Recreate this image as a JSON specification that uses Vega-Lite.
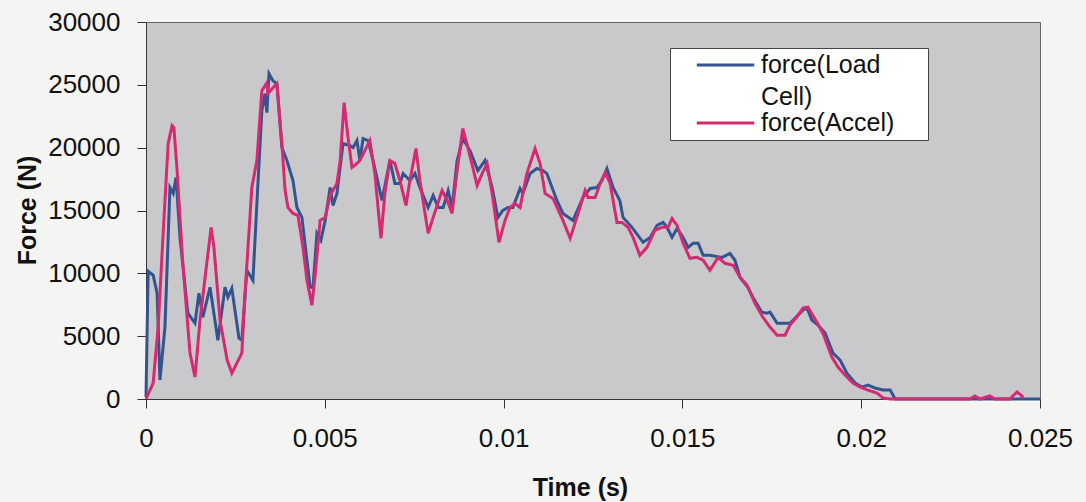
{
  "$schema": "https://vega.github.io/schema/vega-lite/v6.json",
  "width": 894,
  "height": 377,
  "autosize": {"type": "none"},
  "padding": {"left": 146, "top": 22, "right": 46, "bottom": 103},
  "background": "#f4f4f2",
  "config": {
    "view": {"fill": "#c9c9cb", "stroke": "#666666", "strokeWidth": 1},
    "font": "Liberation Sans"
  },
  "data": {"values": [
    {"time":0,"force":160,"series":"force(Load Cell)"},
    {"time":0.00006,"force":10160,"series":"force(Load Cell)"},
    {"time":0.0002,"force":9850,"series":"force(Load Cell)"},
    {"time":0.00031,"force":8420,"series":"force(Load Cell)"},
    {"time":0.00039,"force":1510,"series":"force(Load Cell)"},
    {"time":0.00053,"force":5720,"series":"force(Load Cell)"},
    {"time":0.00067,"force":16830,"series":"force(Load Cell)"},
    {"time":0.00076,"force":16360,"series":"force(Load Cell)"},
    {"time":0.00084,"force":17630,"series":"force(Load Cell)"},
    {"time":0.00095,"force":12860,"series":"force(Load Cell)"},
    {"time":0.00117,"force":6830,"series":"force(Load Cell)"},
    {"time":0.00137,"force":6040,"series":"force(Load Cell)"},
    {"time":0.00148,"force":8420,"series":"force(Load Cell)"},
    {"time":0.00159,"force":6510,"series":"force(Load Cell)"},
    {"time":0.00179,"force":8890,"series":"force(Load Cell)"},
    {"time":0.00201,"force":4680,"series":"force(Load Cell)"},
    {"time":0.00221,"force":8890,"series":"force(Load Cell)"},
    {"time":0.00229,"force":8100,"series":"force(Load Cell)"},
    {"time":0.0024,"force":8810,"series":"force(Load Cell)"},
    {"time":0.0026,"force":4840,"series":"force(Load Cell)"},
    {"time":0.00268,"force":4680,"series":"force(Load Cell)"},
    {"time":0.00282,"force":10240,"series":"force(Load Cell)"},
    {"time":0.00299,"force":9450,"series":"force(Load Cell)"},
    {"time":0.00313,"force":17150,"series":"force(Load Cell)"},
    {"time":0.00324,"force":22950,"series":"force(Load Cell)"},
    {"time":0.00333,"force":24300,"series":"force(Load Cell)"},
    {"time":0.00338,"force":22790,"series":"force(Load Cell)"},
    {"time":0.00344,"force":25880,"series":"force(Load Cell)"},
    {"time":0.00355,"force":25330,"series":"force(Load Cell)"},
    {"time":0.00366,"force":25090,"series":"force(Load Cell)"},
    {"time":0.0038,"force":20010,"series":"force(Load Cell)"},
    {"time":0.00394,"force":18980,"series":"force(Load Cell)"},
    {"time":0.00411,"force":17390,"series":"force(Load Cell)"},
    {"time":0.00422,"force":15240,"series":"force(Load Cell)"},
    {"time":0.00436,"force":14450,"series":"force(Load Cell)"},
    {"time":0.0045,"force":11040,"series":"force(Load Cell)"},
    {"time":0.00459,"force":8890,"series":"force(Load Cell)"},
    {"time":0.00467,"force":8890,"series":"force(Load Cell)"},
    {"time":0.00478,"force":13180,"series":"force(Load Cell)"},
    {"time":0.00489,"force":12620,"series":"force(Load Cell)"},
    {"time":0.00501,"force":14210,"series":"force(Load Cell)"},
    {"time":0.00515,"force":16830,"series":"force(Load Cell)"},
    {"time":0.00523,"force":15400,"series":"force(Load Cell)"},
    {"time":0.00534,"force":16360,"series":"force(Load Cell)"},
    {"time":0.00551,"force":20330,"series":"force(Load Cell)"},
    {"time":0.0057,"force":20170,"series":"force(Load Cell)"},
    {"time":0.00579,"force":20010,"series":"force(Load Cell)"},
    {"time":0.0059,"force":20560,"series":"force(Load Cell)"},
    {"time":0.00598,"force":18980,"series":"force(Load Cell)"},
    {"time":0.00607,"force":20720,"series":"force(Load Cell)"},
    {"time":0.00621,"force":20560,"series":"force(Load Cell)"},
    {"time":0.00635,"force":18980,"series":"force(Load Cell)"},
    {"time":0.0066,"force":15800,"series":"force(Load Cell)"},
    {"time":0.00682,"force":18980,"series":"force(Load Cell)"},
    {"time":0.00696,"force":17150,"series":"force(Load Cell)"},
    {"time":0.0071,"force":17150,"series":"force(Load Cell)"},
    {"time":0.00719,"force":17940,"series":"force(Load Cell)"},
    {"time":0.00738,"force":17390,"series":"force(Load Cell)"},
    {"time":0.00752,"force":17940,"series":"force(Load Cell)"},
    {"time":0.00766,"force":16830,"series":"force(Load Cell)"},
    {"time":0.00789,"force":15240,"series":"force(Load Cell)"},
    {"time":0.00803,"force":16200,"series":"force(Load Cell)"},
    {"time":0.00817,"force":15240,"series":"force(Load Cell)"},
    {"time":0.00831,"force":15240,"series":"force(Load Cell)"},
    {"time":0.00845,"force":16590,"series":"force(Load Cell)"},
    {"time":0.00856,"force":15240,"series":"force(Load Cell)"},
    {"time":0.0087,"force":18980,"series":"force(Load Cell)"},
    {"time":0.00886,"force":20720,"series":"force(Load Cell)"},
    {"time":0.00906,"force":19770,"series":"force(Load Cell)"},
    {"time":0.00928,"force":18180,"series":"force(Load Cell)"},
    {"time":0.00948,"force":18980,"series":"force(Load Cell)"},
    {"time":0.00968,"force":16830,"series":"force(Load Cell)"},
    {"time":0.00984,"force":14450,"series":"force(Load Cell)"},
    {"time":0.00998,"force":15010,"series":"force(Load Cell)"},
    {"time":0.01012,"force":15240,"series":"force(Load Cell)"},
    {"time":0.01026,"force":15240,"series":"force(Load Cell)"},
    {"time":0.01046,"force":16750,"series":"force(Load Cell)"},
    {"time":0.01054,"force":16360,"series":"force(Load Cell)"},
    {"time":0.01074,"force":17940,"series":"force(Load Cell)"},
    {"time":0.01093,"force":18340,"series":"force(Load Cell)"},
    {"time":0.0111,"force":18180,"series":"force(Load Cell)"},
    {"time":0.01121,"force":17940,"series":"force(Load Cell)"},
    {"time":0.01149,"force":15800,"series":"force(Load Cell)"},
    {"time":0.01166,"force":14770,"series":"force(Load Cell)"},
    {"time":0.01194,"force":14210,"series":"force(Load Cell)"},
    {"time":0.01222,"force":16040,"series":"force(Load Cell)"},
    {"time":0.01242,"force":16750,"series":"force(Load Cell)"},
    {"time":0.01261,"force":16830,"series":"force(Load Cell)"},
    {"time":0.01275,"force":17390,"series":"force(Load Cell)"},
    {"time":0.01289,"force":18340,"series":"force(Load Cell)"},
    {"time":0.01306,"force":16830,"series":"force(Load Cell)"},
    {"time":0.01325,"force":15800,"series":"force(Load Cell)"},
    {"time":0.01334,"force":14450,"series":"force(Load Cell)"},
    {"time":0.01359,"force":13660,"series":"force(Load Cell)"},
    {"time":0.0139,"force":12470,"series":"force(Load Cell)"},
    {"time":0.0141,"force":12860,"series":"force(Load Cell)"},
    {"time":0.01429,"force":13820,"series":"force(Load Cell)"},
    {"time":0.01446,"force":14050,"series":"force(Load Cell)"},
    {"time":0.01457,"force":13660,"series":"force(Load Cell)"},
    {"time":0.01471,"force":12860,"series":"force(Load Cell)"},
    {"time":0.01485,"force":13580,"series":"force(Load Cell)"},
    {"time":0.01502,"force":12860,"series":"force(Load Cell)"},
    {"time":0.01516,"force":12070,"series":"force(Load Cell)"},
    {"time":0.0153,"force":12390,"series":"force(Load Cell)"},
    {"time":0.01544,"force":12390,"series":"force(Load Cell)"},
    {"time":0.01558,"force":11430,"series":"force(Load Cell)"},
    {"time":0.01577,"force":11430,"series":"force(Load Cell)"},
    {"time":0.01611,"force":11270,"series":"force(Load Cell)"},
    {"time":0.01633,"force":11590,"series":"force(Load Cell)"},
    {"time":0.01647,"force":11040,"series":"force(Load Cell)"},
    {"time":0.01661,"force":9690,"series":"force(Load Cell)"},
    {"time":0.01683,"force":8890,"series":"force(Load Cell)"},
    {"time":0.01697,"force":8100,"series":"force(Load Cell)"},
    {"time":0.01722,"force":6910,"series":"force(Load Cell)"},
    {"time":0.01737,"force":6830,"series":"force(Load Cell)"},
    {"time":0.01745,"force":6910,"series":"force(Load Cell)"},
    {"time":0.01765,"force":6030,"series":"force(Load Cell)"},
    {"time":0.01801,"force":6030,"series":"force(Load Cell)"},
    {"time":0.01823,"force":6670,"series":"force(Load Cell)"},
    {"time":0.01843,"force":7230,"series":"force(Load Cell)"},
    {"time":0.01851,"force":7070,"series":"force(Load Cell)"},
    {"time":0.01862,"force":6270,"series":"force(Load Cell)"},
    {"time":0.01879,"force":5880,"series":"force(Load Cell)"},
    {"time":0.01899,"force":5240,"series":"force(Load Cell)"},
    {"time":0.01921,"force":3650,"series":"force(Load Cell)"},
    {"time":0.01941,"force":3100,"series":"force(Load Cell)"},
    {"time":0.0196,"force":2060,"series":"force(Load Cell)"},
    {"time":0.01983,"force":1270,"series":"force(Load Cell)"},
    {"time":0.02002,"force":950,"series":"force(Load Cell)"},
    {"time":0.02019,"force":1110,"series":"force(Load Cell)"},
    {"time":0.02039,"force":870,"series":"force(Load Cell)"},
    {"time":0.02061,"force":710,"series":"force(Load Cell)"},
    {"time":0.02081,"force":710,"series":"force(Load Cell)"},
    {"time":0.02095,"force":0,"series":"force(Load Cell)"},
    {"time":0.025,"force":0,"series":"force(Load Cell)"},
    {"time":0,"force":0,"series":"force(Accel)"},
    {"time":0.0002,"force":1270,"series":"force(Accel)"},
    {"time":0.00034,"force":5720,"series":"force(Accel)"},
    {"time":0.00048,"force":13180,"series":"force(Accel)"},
    {"time":0.00062,"force":20330,"series":"force(Accel)"},
    {"time":0.00073,"force":21760,"series":"force(Accel)"},
    {"time":0.00078,"force":21600,"series":"force(Accel)"},
    {"time":0.00087,"force":18180,"series":"force(Accel)"},
    {"time":0.00103,"force":10800,"series":"force(Accel)"},
    {"time":0.00123,"force":3650,"series":"force(Accel)"},
    {"time":0.00137,"force":1750,"series":"force(Accel)"},
    {"time":0.00151,"force":6270,"series":"force(Accel)"},
    {"time":0.00171,"force":11040,"series":"force(Accel)"},
    {"time":0.00182,"force":13660,"series":"force(Accel)"},
    {"time":0.0019,"force":12070,"series":"force(Accel)"},
    {"time":0.00207,"force":6270,"series":"force(Accel)"},
    {"time":0.00227,"force":3100,"series":"force(Accel)"},
    {"time":0.0024,"force":2060,"series":"force(Accel)"},
    {"time":0.00254,"force":2860,"series":"force(Accel)"},
    {"time":0.00268,"force":3650,"series":"force(Accel)"},
    {"time":0.00277,"force":8420,"series":"force(Accel)"},
    {"time":0.00296,"force":16830,"series":"force(Accel)"},
    {"time":0.0031,"force":18980,"series":"force(Accel)"},
    {"time":0.00324,"force":24530,"series":"force(Accel)"},
    {"time":0.00338,"force":25170,"series":"force(Accel)"},
    {"time":0.00341,"force":24300,"series":"force(Accel)"},
    {"time":0.00355,"force":24770,"series":"force(Accel)"},
    {"time":0.00366,"force":25090,"series":"force(Accel)"},
    {"time":0.0038,"force":20330,"series":"force(Accel)"},
    {"time":0.00389,"force":16590,"series":"force(Accel)"},
    {"time":0.00397,"force":15240,"series":"force(Accel)"},
    {"time":0.00411,"force":14770,"series":"force(Accel)"},
    {"time":0.00425,"force":14610,"series":"force(Accel)"},
    {"time":0.00439,"force":12070,"series":"force(Accel)"},
    {"time":0.0045,"force":9450,"series":"force(Accel)"},
    {"time":0.00464,"force":7460,"series":"force(Accel)"},
    {"time":0.00473,"force":9850,"series":"force(Accel)"},
    {"time":0.00487,"force":14210,"series":"force(Accel)"},
    {"time":0.00501,"force":14450,"series":"force(Accel)"},
    {"time":0.00515,"force":16200,"series":"force(Accel)"},
    {"time":0.00534,"force":17150,"series":"force(Accel)"},
    {"time":0.00543,"force":18980,"series":"force(Accel)"},
    {"time":0.00554,"force":23580,"series":"force(Accel)"},
    {"time":0.00565,"force":20800,"series":"force(Accel)"},
    {"time":0.00576,"force":18420,"series":"force(Accel)"},
    {"time":0.0059,"force":18740,"series":"force(Accel)"},
    {"time":0.00598,"force":18980,"series":"force(Accel)"},
    {"time":0.00612,"force":19770,"series":"force(Accel)"},
    {"time":0.00626,"force":20560,"series":"force(Accel)"},
    {"time":0.0064,"force":17940,"series":"force(Accel)"},
    {"time":0.00657,"force":12780,"series":"force(Accel)"},
    {"time":0.00668,"force":16360,"series":"force(Accel)"},
    {"time":0.00682,"force":18980,"series":"force(Accel)"},
    {"time":0.00696,"force":18740,"series":"force(Accel)"},
    {"time":0.0071,"force":17390,"series":"force(Accel)"},
    {"time":0.00727,"force":15400,"series":"force(Accel)"},
    {"time":0.00738,"force":17390,"series":"force(Accel)"},
    {"time":0.00755,"force":19930,"series":"force(Accel)"},
    {"time":0.00766,"force":17390,"series":"force(Accel)"},
    {"time":0.00789,"force":13180,"series":"force(Accel)"},
    {"time":0.00803,"force":14450,"series":"force(Accel)"},
    {"time":0.00828,"force":16590,"series":"force(Accel)"},
    {"time":0.00842,"force":15800,"series":"force(Accel)"},
    {"time":0.00856,"force":14770,"series":"force(Accel)"},
    {"time":0.0087,"force":18180,"series":"force(Accel)"},
    {"time":0.00886,"force":21520,"series":"force(Accel)"},
    {"time":0.009,"force":20010,"series":"force(Accel)"},
    {"time":0.00914,"force":18420,"series":"force(Accel)"},
    {"time":0.00926,"force":16990,"series":"force(Accel)"},
    {"time":0.0094,"force":17940,"series":"force(Accel)"},
    {"time":0.00954,"force":18740,"series":"force(Accel)"},
    {"time":0.00968,"force":16360,"series":"force(Accel)"},
    {"time":0.00987,"force":12470,"series":"force(Accel)"},
    {"time":0.01004,"force":14210,"series":"force(Accel)"},
    {"time":0.01018,"force":15240,"series":"force(Accel)"},
    {"time":0.01032,"force":15560,"series":"force(Accel)"},
    {"time":0.01046,"force":15240,"series":"force(Accel)"},
    {"time":0.01065,"force":17940,"series":"force(Accel)"},
    {"time":0.01088,"force":19930,"series":"force(Accel)"},
    {"time":0.01102,"force":18740,"series":"force(Accel)"},
    {"time":0.01116,"force":16360,"series":"force(Accel)"},
    {"time":0.01138,"force":15960,"series":"force(Accel)"},
    {"time":0.01166,"force":14210,"series":"force(Accel)"},
    {"time":0.01186,"force":12780,"series":"force(Accel)"},
    {"time":0.01205,"force":14450,"series":"force(Accel)"},
    {"time":0.01228,"force":16590,"series":"force(Accel)"},
    {"time":0.01236,"force":16040,"series":"force(Accel)"},
    {"time":0.01256,"force":16040,"series":"force(Accel)"},
    {"time":0.0127,"force":17150,"series":"force(Accel)"},
    {"time":0.01284,"force":18020,"series":"force(Accel)"},
    {"time":0.01298,"force":17150,"series":"force(Accel)"},
    {"time":0.01317,"force":14050,"series":"force(Accel)"},
    {"time":0.01331,"force":14050,"series":"force(Accel)"},
    {"time":0.01348,"force":13660,"series":"force(Accel)"},
    {"time":0.01362,"force":12860,"series":"force(Accel)"},
    {"time":0.01381,"force":11430,"series":"force(Accel)"},
    {"time":0.01401,"force":12070,"series":"force(Accel)"},
    {"time":0.01423,"force":13420,"series":"force(Accel)"},
    {"time":0.01443,"force":13660,"series":"force(Accel)"},
    {"time":0.0146,"force":13660,"series":"force(Accel)"},
    {"time":0.01471,"force":14370,"series":"force(Accel)"},
    {"time":0.01485,"force":13820,"series":"force(Accel)"},
    {"time":0.01502,"force":12390,"series":"force(Accel)"},
    {"time":0.01521,"force":11200,"series":"force(Accel)"},
    {"time":0.01541,"force":11270,"series":"force(Accel)"},
    {"time":0.01558,"force":11040,"series":"force(Accel)"},
    {"time":0.01577,"force":10240,"series":"force(Accel)"},
    {"time":0.016,"force":11270,"series":"force(Accel)"},
    {"time":0.01619,"force":10800,"series":"force(Accel)"},
    {"time":0.01642,"force":10640,"series":"force(Accel)"},
    {"time":0.01661,"force":9690,"series":"force(Accel)"},
    {"time":0.01681,"force":9050,"series":"force(Accel)"},
    {"time":0.01703,"force":7620,"series":"force(Accel)"},
    {"time":0.01725,"force":6510,"series":"force(Accel)"},
    {"time":0.01745,"force":5720,"series":"force(Accel)"},
    {"time":0.01765,"force":5080,"series":"force(Accel)"},
    {"time":0.01787,"force":5080,"series":"force(Accel)"},
    {"time":0.01801,"force":5880,"series":"force(Accel)"},
    {"time":0.0182,"force":6510,"series":"force(Accel)"},
    {"time":0.01837,"force":7230,"series":"force(Accel)"},
    {"time":0.01851,"force":7300,"series":"force(Accel)"},
    {"time":0.01876,"force":6110,"series":"force(Accel)"},
    {"time":0.01893,"force":5240,"series":"force(Accel)"},
    {"time":0.01918,"force":3330,"series":"force(Accel)"},
    {"time":0.01935,"force":2540,"series":"force(Accel)"},
    {"time":0.0196,"force":1750,"series":"force(Accel)"},
    {"time":0.01977,"force":1270,"series":"force(Accel)"},
    {"time":0.01997,"force":950,"series":"force(Accel)"},
    {"time":0.02019,"force":710,"series":"force(Accel)"},
    {"time":0.02044,"force":480,"series":"force(Accel)"},
    {"time":0.02061,"force":80,"series":"force(Accel)"},
    {"time":0.02081,"force":0,"series":"force(Accel)"},
    {"time":0.02304,"force":0,"series":"force(Accel)"},
    {"time":0.02318,"force":240,"series":"force(Accel)"},
    {"time":0.02332,"force":0,"series":"force(Accel)"},
    {"time":0.0236,"force":240,"series":"force(Accel)"},
    {"time":0.02374,"force":0,"series":"force(Accel)"},
    {"time":0.02416,"force":0,"series":"force(Accel)"},
    {"time":0.02424,"force":240,"series":"force(Accel)"},
    {"time":0.02436,"force":560,"series":"force(Accel)"},
    {"time":0.0245,"force":240,"series":"force(Accel)"},
    {"time":0.02452,"force":0,"series":"force(Accel)"}
  ]},
  "encoding": {
    "x": {
      "field": "time", "type": "quantitative",
      "scale": {"domain": [0, 0.025], "nice": false, "zero": false},
      "axis": {
        "title": "Time (s)", "values": [0, 0.005, 0.01, 0.015, 0.02, 0.025], "format": "~g",
        "grid": false, "domainColor": "#333333", "tickColor": "#333333", "tickSize": 9,
        "labelFontSize": 26, "labelColor": "#111111", "labelPadding": 17, "labelFlush": false,
        "titleFontSize": 25, "titleFontWeight": "bold", "titleColor": "#111111",
        "titleX": 434, "titleY": 88, "titleBaseline": "middle"
      }
    },
    "y": {
      "field": "force", "type": "quantitative",
      "scale": {"domain": [0, 30000], "nice": false},
      "axis": {
        "title": "Force (N)", "values": [0, 5000, 10000, 15000, 20000, 25000, 30000], "format": "d",
        "grid": false, "domainColor": "#333333", "tickColor": "#333333", "tickSize": 9,
        "labelFontSize": 26, "labelColor": "#111111", "labelPadding": 17,
        "titleFontSize": 25, "titleFontWeight": "bold", "titleColor": "#111111",
        "titleX": -119, "titleY": 188, "titleBaseline": "middle"
      }
    },
    "color": {
      "field": "series", "type": "nominal",
      "scale": {"domain": ["force(Load Cell)", "force(Accel)"], "range": ["#34548f", "#d52a72"]},
      "legend": {
        "title": null, "orient": "none", "legendX": 524, "legendY": 26,
        "fillColor": "#ffffff", "strokeColor": "#444444", "padding": 4,
        "labelFontSize": 25, "labelColor": "#111111", "labelLimit": 400, "labelOffset": 22.5,
        "labelBaseline": "top",
        "symbolType": "M-2.5,0H2.5M16.7,0", "symbolSize": 529, "symbolStrokeWidth": 3, "symbolOffset": 38.5,
        "labelExpr": "datum.label == 'force(Load Cell)' ? ['force(Load', 'Cell)'] : datum.label",
        "rowPadding": -2,
        "encode": {"labels": {"update": {"lineHeight": {"value": 32}, "dy": {"value": -12}}}}
      }
    }
  },
  "layer": [
    {"transform": [{"filter": "datum.series == 'force(Load Cell)'"}], "mark": {"type": "line", "strokeWidth": 3}},
    {"transform": [{"filter": "datum.series == 'force(Accel)'"}], "mark": {"type": "line", "strokeWidth": 3}}
  ]
}
